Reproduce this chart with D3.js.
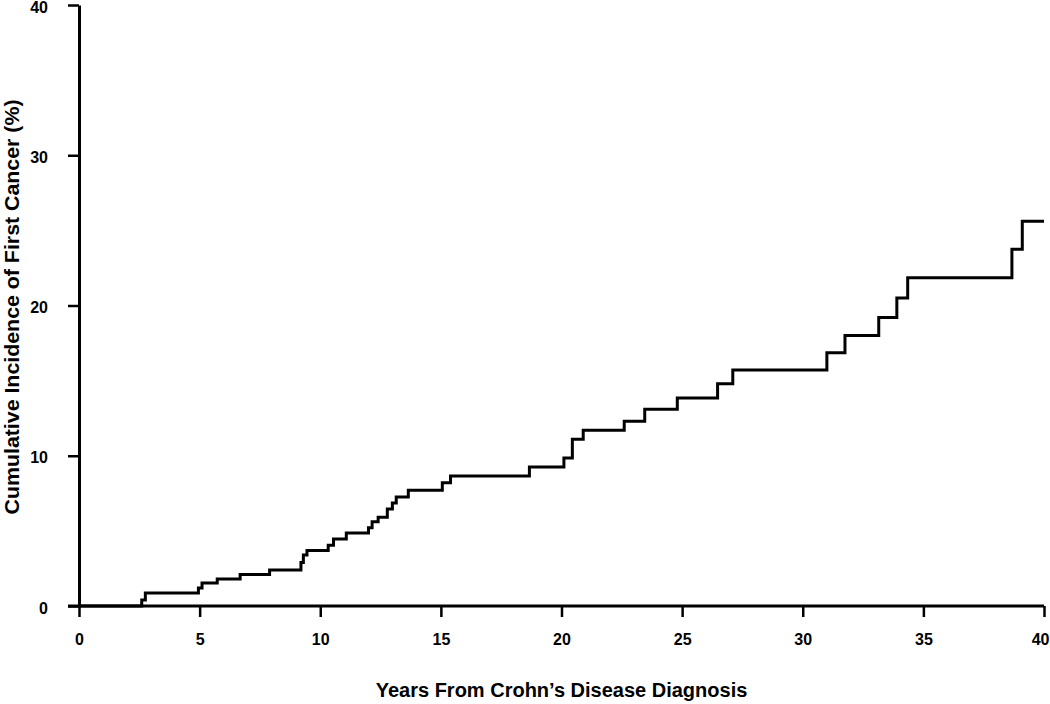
<!DOCTYPE html>
<html>
<head>
<meta charset="utf-8">
<script src="https://cdn.jsdelivr.net/npm/d3@7"></script>
<style>
  body { margin: 0; background: #fff; }
  text { font-family: "Liberation Sans", Arial, sans-serif; font-weight: bold; fill: #000; }
</style>
</head>
<body>
<svg id="chart" width="1050" height="704"></svg>
<script>
// years since diagnosis where the curve steps up, and the cumulative incidence (%) after each step
const years = [0, 2.6, 2.75, 4.95, 5.1, 5.73, 6.68, 7.9, 9.2, 9.3, 9.45, 10.33, 10.55, 11.08,
  12.0, 12.15, 12.4, 12.78, 12.99, 13.15, 13.65, 15.06, 15.4, 18.67, 20.1, 20.45, 20.9,
  22.6, 23.45, 24.8, 26.47, 27.1, 31.0, 31.75, 33.15, 33.9, 34.35, 38.67, 39.1, 40];
const incidence = [0, 0.4, 0.87, 1.2, 1.53, 1.8, 2.1, 2.4, 2.9, 3.4, 3.7, 4.05, 4.46, 4.86,
  5.2, 5.6, 5.9, 6.45, 6.85, 7.25, 7.7, 8.2, 8.65, 9.25, 9.85, 11.1, 11.7,
  12.3, 13.1, 13.85, 14.8, 15.7, 16.85, 18.0, 19.2, 20.5, 21.85, 23.75, 25.6, 25.6];
const xTicks = [0, 5, 10, 15, 20, 25, 30, 35, 40];
const yTicks = [0, 10, 20, 30, 40];

const data = years.map((t, i) => ({ t: t, v: incidence[i] }));

const svg = d3.select('#chart');

// plot area
const plotLeft = 79, plotRight = 1044, plotTop = 5, plotBottom = 606;

const x = d3.scaleLinear().domain([0, 40]).range([plotLeft, plotRight]);
const y = d3.scaleLinear().domain([0, 40]).range([plotBottom, plotTop]);

// x axis
const xAxis = svg.append('g')
  .attr('transform', `translate(0, ${plotBottom})`)
  .call(d3.axisBottom(x).tickValues(xTicks).tickSize(11).tickPadding(17).tickSizeOuter(0));

// y axis
const yAxis = svg.append('g')
  .attr('transform', `translate(${plotLeft}, 0)`)
  .call(d3.axisLeft(y).tickValues(yTicks).tickSize(11).tickPadding(20).tickSizeOuter(0));

[xAxis, yAxis].forEach(a => {
  a.select('.domain').attr('stroke', '#000').attr('stroke-width', 3);
  a.selectAll('.tick line').attr('stroke', '#000').attr('stroke-width', 2.5);
  a.selectAll('.tick text')
    .style('font-family', '"Liberation Sans", Arial, sans-serif')
    .style('font-weight', 'bold')
    .style('font-size', '16px')
    .attr('fill', '#000');
});
// y labels sit a touch below their ticks
yAxis.selectAll('.tick text').attr('dy', '0.45em');
// last x label is squeezed against the right edge
xAxis.selectAll('.tick text').filter(d => d === 40)
  .attr('text-anchor', 'end')
  .attr('x', 1049 - plotRight);
// x axis line extends a little left of the y axis
xAxis.select('.domain').attr('d', `M${plotLeft - 11},0H${plotRight}`);

// step curve
const line = d3.line()
  .x(d => x(d.t))
  .y(d => y(d.v))
  .curve(d3.curveStepAfter);

svg.append('path')
  .datum(data)
  .attr('fill', 'none')
  .attr('stroke', '#000')
  .attr('stroke-width', 3)
  .attr('d', line);

// axis titles
svg.append('text')
  .attr('x', (plotLeft + plotRight) / 2)
  .attr('y', 697)
  .attr('text-anchor', 'middle')
  .style('font-size', '20px')
  .text('Years From Crohn\u2019s Disease Diagnosis');

svg.append('text')
  .attr('transform', 'translate(19, 307) rotate(-90)')
  .attr('text-anchor', 'middle')
  .attr('textLength', 415)
  .attr('lengthAdjust', 'spacingAndGlyphs')
  .style('font-size', '21px')
  .text('Cumulative Incidence of First Cancer (%)');
</script>
</body>
</html>
